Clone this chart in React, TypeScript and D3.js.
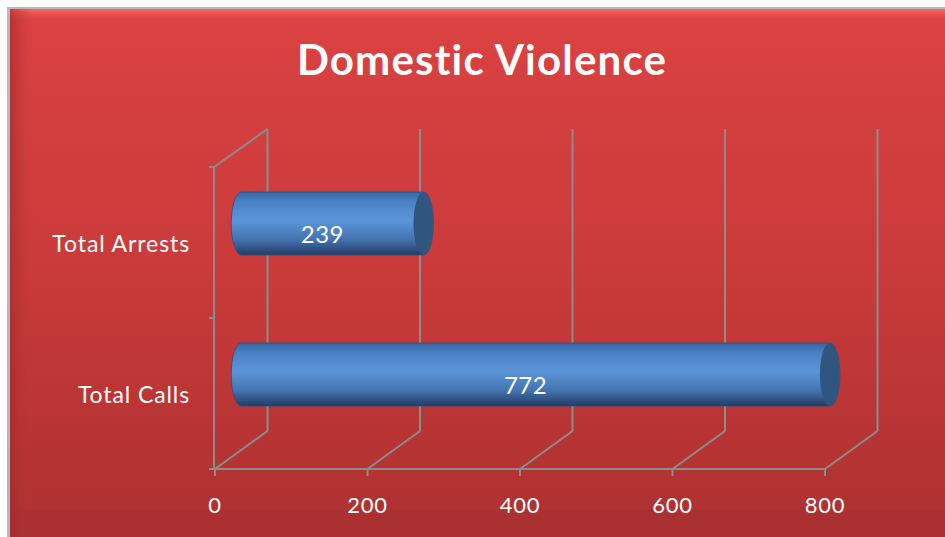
import React from "react";
import * as d3 from "d3";

const categories = ["Total Arrests", "Total Calls"];
const values = [239, 772];
const ticks = [0, 200, 400, 600, 800];
const title = "Domestic Violence";

const W = 945;
const H = 537;
const DX = 52.5;
const DY = -38;

export default function App() {
  const x = d3.scaleLinear().domain([0, 800]).range([215, 825]);
  const y = d3.scaleBand<string>().domain(categories).range([167, 469]);
  const barH = 63;
  const rx = 10;
  const ry = barH / 2;
  const grid = "#8c8c8c";
  const fontFam = "Lato, 'Open Sans', sans-serif";

  return (
    <div style={{ position: "absolute", left: 0, top: 0, width: W, height: H, overflow: "hidden", background: "#fff" }}>
      <svg width={W} height={H} style={{ display: "block" }}>
        <defs>
          <linearGradient id="bg" x1="0" y1="0" x2="0" y2="1">
            <stop offset="0" stopColor="#dc4242" />
            <stop offset="0.5" stopColor="#c93a3a" />
            <stop offset="1" stopColor="#ab3030" />
          </linearGradient>
          <linearGradient id="topHi" x1="0" y1="0" x2="0" y2="1">
            <stop offset="0" stopColor="#f06a6a" />
            <stop offset="1" stopColor="#dc4242" stopOpacity="0" />
          </linearGradient>
          <linearGradient id="leftSh" x1="0" y1="0" x2="1" y2="0">
            <stop offset="0" stopColor="#9a2a2a" stopOpacity="0.6" />
            <stop offset="1" stopColor="#c93a3a" stopOpacity="0" />
          </linearGradient>
          <linearGradient id="cyl" x1="0" y1="0" x2="0" y2="1">
            <stop offset="0" stopColor="#3565a0" />
            <stop offset="0.15" stopColor="#4a80c4" />
            <stop offset="0.45" stopColor="#5b96d9" />
            <stop offset="0.75" stopColor="#4474b0" />
            <stop offset="1" stopColor="#213d66" />
          </linearGradient>
        </defs>
        {/* panel */}
        <rect x={7} y={7} width={W} height={H} fill="#b8b8b8" />
        <rect x={10} y={9} width={W} height={H} fill="url(#bg)" />
        <rect x={10} y={9} width={W} height={14} fill="url(#topHi)" />
        <rect x={10} y={9} width={24} height={H} fill="url(#leftSh)" />
        <rect x={10} y={510} width={W} height={27} fill="#a83034" opacity={0.6} />

        {/* title */}
        <text x={482} y={75} textAnchor="middle" fill="#fff" fontFamily={fontFam} fontWeight={700} fontSize={42} letterSpacing={1.2}>
          {title}
        </text>

        {/* back wall + floor gridlines */}
        {ticks.map((t) => (
          <g key={"g" + t} stroke={grid} strokeWidth={2} fill="none">
            <line x1={x(t) + DX} y1={167 + DY} x2={x(t) + DX} y2={469 + DY} />
            <line x1={x(t)} y1={469} x2={x(t) + DX} y2={469 + DY} />
          </g>
        ))}
        {/* left side wall top edge */}
        <line x1={214} y1={167} x2={x(0) + DX} y2={167 + DY} stroke={grid} strokeWidth={2} />
        {/* front axes */}
        <line x1={214} y1={167} x2={214} y2={469} stroke={grid} strokeWidth={2} />
        <line x1={209} y1={167} x2={214} y2={167} stroke={grid} strokeWidth={2} />
        <line x1={209} y1={y("Total Calls")!} x2={214} y2={y("Total Calls")!} stroke={grid} strokeWidth={2} />
        <line x1={209} y1={469} x2={214} y2={469} stroke={grid} strokeWidth={2} />
        <line x1={214} y1={469} x2={x(800)} y2={469} stroke={grid} strokeWidth={2} />
        {ticks.map((t) => (
          <line key={"t" + t} x1={x(t)} y1={469} x2={x(t)} y2={476} stroke={grid} strokeWidth={2} />
        ))}
        {ticks.map((t) => (
          <text key={"l" + t} x={x(t)} y={513} textAnchor="middle" fill="#fff" fontFamily={fontFam} fontSize={22} letterSpacing={0.8}>
            {t}
          </text>
        ))}

        {/* category labels */}
        {categories.map((c) => (
          <text key={c} x={190} y={y(c)! + y.bandwidth() / 2 + 9} textAnchor="end" fill="#fff" fontFamily={fontFam} fontSize={23} letterSpacing={0.9}>
            {c}
          </text>
        ))}

        {/* bars */}
        {categories.map((c, i) => {
          const cy = y(c)! + y.bandwidth() / 2 + DY / 2;
          const x0 = x(0) + DX / 2;
          const x1 = x(values[i]) + DX / 2;
          const top = cy - ry;
          const bot = cy + ry;
          const body = `M${x0},${top} L${x1},${top} A${rx},${ry} 0 0 1 ${x1},${bot} L${x0},${bot} A${rx},${ry} 0 0 1 ${x0},${top} Z`;
          return (
            <g key={"b" + c}>
              <path d={body} fill="url(#cyl)" stroke="#2c4f80" strokeWidth={0.8} />
              <ellipse cx={x1} cy={cy} rx={rx} ry={ry} fill="#30557f" />
              <text x={(x0 + x1) / 2 - rx} y={cy + 19} textAnchor="middle" fill="#fff" fontFamily={fontFam} fontSize={24} letterSpacing={0.5}>
                {values[i]}
              </text>
            </g>
          );
        })}
      </svg>
    </div>
  );
}
